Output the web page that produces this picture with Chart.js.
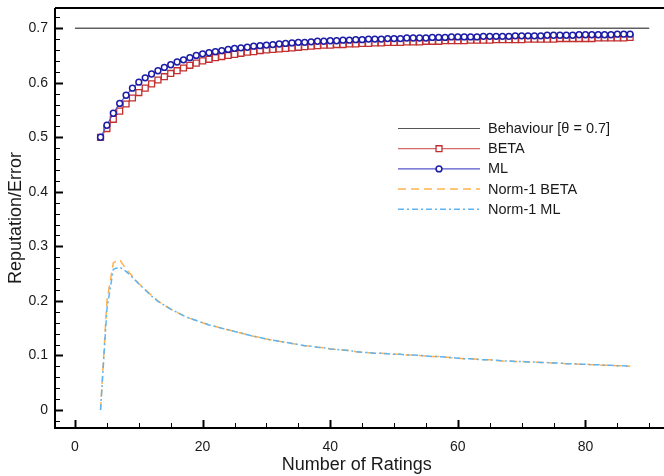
<!DOCTYPE html>
<html>
<head>
<meta charset="utf-8">
<script src="https://cdn.jsdelivr.net/npm/chart.js@4.4.0/dist/chart.umd.min.js"></script>
<style>
  html, body { margin: 0; padding: 0; background: #fff; }
  #wrap { width: 664px; height: 476px; }
</style>
</head>
<body>
<div id="wrap"><canvas id="chart"></canvas></div>
<script>
// number of ratings (x)
var ratings = [4,5,6,7,8,9,10,11,12,13,14,15,16,17,18,19,20,21,22,23,24,25,26,27,28,29,30,31,32,33,
  34,35,36,37,38,39,40,41,42,43,44,45,46,47,48,49,50,51,52,53,54,55,56,57,58,59,60,61,62,63,
  64,65,66,67,68,69,70,71,72,73,74,75,76,77,78,79,80,81,82,83,84,85,86,87];

var behaviourX = [0, 90];
var behaviourY = [0.7, 0.7];

var beta = [0.500,0.516,0.533,0.548,0.561,0.572,0.582,0.590,0.598,0.605,
  0.611,0.617,0.622,0.627,0.632,0.636,0.640,0.643,0.646,0.648,
  0.650,0.652,0.654,0.656,0.657,0.659,0.660,0.661,0.662,0.663,
  0.664,0.665,0.666,0.667,0.668,0.669,0.669,0.670,0.670,0.671,
  0.671,0.672,0.672,0.673,0.673,0.674,0.674,0.674,0.675,0.675,
  0.675,0.676,0.676,0.676,0.677,0.677,0.677,0.677,0.678,0.678,
  0.678,0.678,0.679,0.679,0.679,0.679,0.679,0.680,0.680,0.680,
  0.680,0.680,0.681,0.681,0.681,0.681,0.681,0.681,0.682,0.682,
  0.682,0.682,0.682,0.683];

var ml = [0.500,0.522,0.544,0.562,0.577,0.590,0.601,0.609,0.616,0.622,
  0.628,0.633,0.638,0.642,0.646,0.650,0.653,0.655,0.657,0.659,
  0.661,0.663,0.664,0.665,0.667,0.668,0.669,0.670,0.671,0.672,
  0.673,0.674,0.674,0.675,0.676,0.676,0.677,0.677,0.678,0.678,
  0.679,0.679,0.680,0.680,0.680,0.681,0.681,0.681,0.682,0.682,
  0.682,0.682,0.683,0.683,0.683,0.684,0.684,0.684,0.684,0.684,
  0.685,0.685,0.685,0.685,0.685,0.686,0.686,0.686,0.686,0.686,
  0.687,0.687,0.687,0.687,0.687,0.688,0.688,0.688,0.688,0.688,
  0.688,0.689,0.689,0.689];

var normBeta = [0.000,0.200,0.270,0.276,0.258,0.245,0.232,0.221,0.210,0.200,
  0.192,0.185,0.179,0.173,0.168,0.164,0.160,0.156,0.153,0.150,
  0.147,0.144,0.141,0.138,0.135,0.133,0.130,0.128,0.126,0.124,
  0.122,0.120,0.118,0.117,0.115,0.114,0.112,0.111,0.110,0.109,
  0.107,0.106,0.105,0.104,0.104,0.103,0.102,0.102,0.101,0.101,
  0.100,0.099,0.098,0.098,0.097,0.096,0.095,0.094,0.094,0.093,
  0.092,0.092,0.091,0.090,0.090,0.089,0.089,0.088,0.088,0.087,
  0.087,0.086,0.086,0.085,0.085,0.084,0.084,0.083,0.083,0.082,
  0.082,0.081,0.081,0.080];

var normMl = [0.000,0.185,0.258,0.262,0.254,0.243,0.231,0.220,0.209,0.199,
  0.192,0.185,0.179,0.173,0.168,0.164,0.160,0.156,0.153,0.150,
  0.147,0.144,0.141,0.138,0.135,0.133,0.130,0.128,0.126,0.124,
  0.122,0.120,0.118,0.117,0.115,0.114,0.112,0.111,0.110,0.109,
  0.107,0.106,0.105,0.104,0.104,0.103,0.102,0.102,0.101,0.101,
  0.100,0.099,0.098,0.098,0.097,0.096,0.095,0.094,0.094,0.093,
  0.092,0.092,0.091,0.090,0.090,0.089,0.089,0.088,0.088,0.087,
  0.087,0.086,0.086,0.085,0.085,0.084,0.084,0.083,0.083,0.082,
  0.082,0.081,0.081,0.080];

var xTicks = [0, 20, 40, 60, 80];
var yTicks = [0, 0.1, 0.2, 0.3, 0.4, 0.5, 0.6, 0.7];
var seriesNames = ['Behaviour [\u03b8 = 0.7]', 'BETA', 'ML', 'Norm-1 BETA', 'Norm-1 ML'];

function pts(xs, ys) {
  return xs.map(function (x, i) { return { x: x, y: ys[i] }; });
}

var FONT = '"Liberation Sans", Arial, Helvetica, sans-serif';

// inward tick marks and the thick frame
var frameTicks = {
  id: 'frameTicks',
  afterDatasetsDraw: function (chart) {
    var ctx = chart.ctx, a = chart.chartArea;
    var xs = chart.scales.x, ys = chart.scales.y;
    ctx.save();
    ctx.strokeStyle = '#000';
    var v, p;
    // y ticks, minor every 0.02
    for (v = -0.02; v <= 0.7201; v += 0.02) {
      p = Math.round(ys.getPixelForValue(v)) + 0.5;
      var major = Math.abs(v * 10 - Math.round(v * 10)) < 1e-6;
      ctx.lineWidth = major ? 2 : 1;
      ctx.beginPath();
      ctx.moveTo(a.left, p);
      ctx.lineTo(a.left + (major ? 8 : 5), p);
      ctx.stroke();
    }
    // x ticks, minor every 5
    for (v = 0; v <= 90; v += 5) {
      p = Math.round(xs.getPixelForValue(v)) + 0.5;
      var mj = v % 20 === 0;
      ctx.lineWidth = mj ? 2 : 1;
      ctx.beginPath();
      ctx.moveTo(p, a.bottom);
      ctx.lineTo(p, a.bottom - (mj ? 8 : 5));
      ctx.stroke();
    }
    ctx.lineWidth = 2;
    ctx.beginPath();
    ctx.moveTo(a.left, a.top);
    ctx.lineTo(chart.width, a.top);
    ctx.moveTo(a.left, a.top);
    ctx.lineTo(a.left, a.bottom);
    ctx.lineTo(chart.width, a.bottom);
    ctx.stroke();
    ctx.restore();
  }
};

// legend drawn inside the plot
var insideLegend = {
  id: 'insideLegend',
  afterDraw: function (chart) {
    var ctx = chart.ctx;
    chart.data.datasets.forEach(function (ds, i) {
      var y = 128.5 + i * 20.2;
      ctx.save();
      ctx.strokeStyle = ds.legendLine || ds.borderColor;
      ctx.lineWidth = ds.borderWidth;
      ctx.setLineDash(ds.borderDash || []);
      ctx.beginPath();
      ctx.moveTo(398, y);
      ctx.lineTo(480, y);
      ctx.stroke();
      ctx.setLineDash([]);
      if (ds.pointRadius > 0) {
        ctx.fillStyle = ds.pointBackgroundColor;
        ctx.strokeStyle = ds.pointBorderColor;
        ctx.lineWidth = ds.pointBorderWidth;
        Chart.helpers.drawPoint(ctx, {
          pointStyle: ds.pointStyle, radius: ds.pointRadius, borderWidth: ds.pointBorderWidth
        }, 439, y);
      }
      ctx.fillStyle = '#1a1a1a';
      ctx.font = '14.5px ' + FONT;
      ctx.textBaseline = 'middle';
      ctx.fillText(ds.label, 488, y + 0.5);
      ctx.restore();
    });
  }
};

var config = {
  type: 'line',
  data: {
    datasets: [{
      label: seriesNames[0],
      data: pts(behaviourX, behaviourY),
      borderColor: '#111',
      legendLine: '#555',
      borderWidth: 1,
      pointRadius: 0,
      order: 4
    }, {
      label: seriesNames[1],
      data: pts(ratings, beta),
      borderColor: '#d46a6a',
      borderWidth: 1.2,
      pointStyle: 'rect',
      pointRadius: 4.2,
      pointBorderWidth: 1.3,
      pointBorderColor: '#c22f2f',
      pointBackgroundColor: '#fff',
      order: 1
    }, {
      label: seriesNames[2],
      data: pts(ratings, ml),
      borderColor: '#5555cc',
      borderWidth: 1.2,
      pointStyle: 'circle',
      pointRadius: 2.9,
      pointBorderWidth: 1.5,
      pointBorderColor: '#1c1ca6',
      pointBackgroundColor: '#fff',
      order: 0
    }, {
      label: seriesNames[3],
      data: pts(ratings, normBeta),
      borderColor: '#ffb24d',
      borderWidth: 1.5,
      borderDash: [8, 5],
      pointRadius: 0,
      order: 3
    }, {
      label: seriesNames[4],
      data: pts(ratings, normMl),
      borderColor: '#5fb4f2',
      borderWidth: 1.5,
      borderDash: [6, 3, 2, 3],
      pointRadius: 0,
      order: 2
    }]
  },
  options: {
    responsive: true,
    maintainAspectRatio: false,
    animation: false,
    devicePixelRatio: 1,
    layout: { padding: { top: 8, right: 0, left: 0, bottom: 0 } },
    plugins: { legend: { display: false }, tooltip: { enabled: false } },
    scales: {
      x: {
        type: 'linear',
        min: -3.137,
        max: 91.45,
        grid: { display: false, drawTicks: false },
        border: { display: false },
        afterBuildTicks: function (s) { s.ticks = xTicks.map(function (v) { return { value: v }; }); },
        afterFit: function (s) { s.height = 48; s.paddingLeft = 0; s.paddingRight = 0; },
        ticks: { color: '#1a1a1a', padding: 11, maxRotation: 0, font: { family: FONT, size: 14 } },
        title: { display: true, text: 'Number of Ratings', color: '#1a1a1a', padding: { top: 0, bottom: 0 }, font: { family: FONT, size: 18 } }
      },
      y: {
        min: -0.033,
        max: 0.737,
        grid: { display: false, drawTicks: false },
        border: { display: false },
        afterBuildTicks: function (s) { s.ticks = yTicks.map(function (v) { return { value: v }; }); },
        afterFit: function (s) { s.width = 55; s.paddingTop = 0; s.paddingBottom = 0; },
        ticks: { color: '#1a1a1a', padding: 7, font: { family: FONT, size: 14 },
          callback: function (v) { return String(Math.round(v * 10) / 10); } },
        title: { display: true, text: 'Reputation/Error', color: '#1a1a1a', padding: { top: 5, bottom: 0 }, font: { family: FONT, size: 18 } }
      }
    }
  },
  plugins: [frameTicks, insideLegend]
};

var ctx = document.getElementById('chart').getContext('2d');
window.myChart = new Chart(ctx, config);
</script>
</body>
</html>
